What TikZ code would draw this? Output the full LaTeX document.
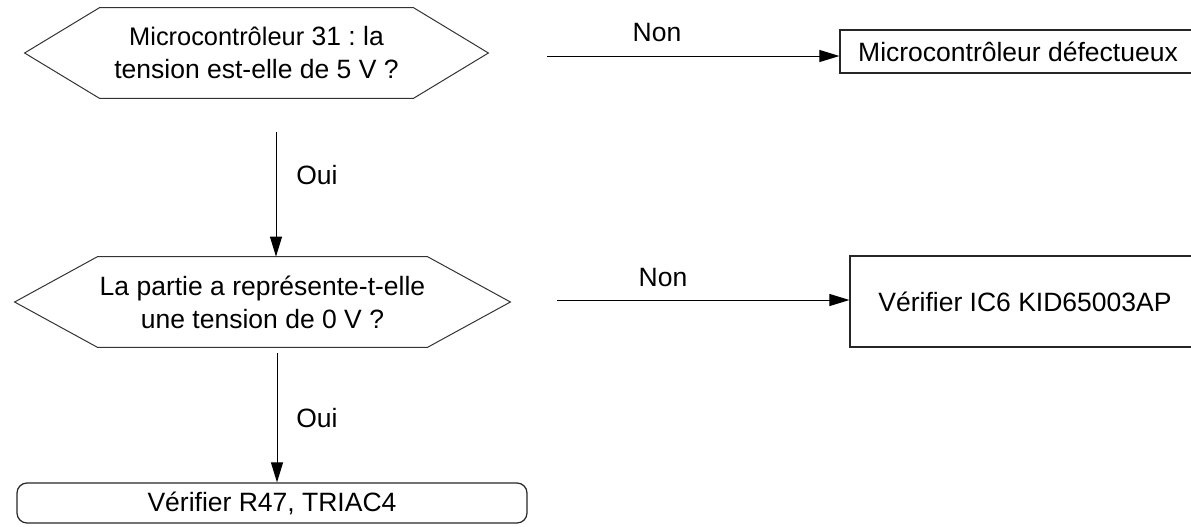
\documentclass[tikz,border=0pt]{standalone}
\usepackage{fontspec}
\setmainfont{Liberation Sans}
\usetikzlibrary{arrows.meta}
\frenchspacing
\begin{document}
\begin{tikzpicture}[x=0.5pt,y=-0.5pt,
  every node/.style={font=\fontsize{13.25}{16.5}\selectfont, inner sep=0pt},
  hexa/.style={draw=none, align=center, minimum height=45pt},
  outline/.style={draw=black!80, line width=0.5pt, line join=miter},
  boxstyle/.style={draw=black!85, line width=0.6pt, align=center},
  arr/.style={draw=black, line width=0.5pt, -{Triangle[length=10pt,width=6pt]}},
  lbl/.style={}
]
\useasboundingbox (0,0) rectangle (1191,526);
\clip (0,0) rectangle (1191,526);

% decision 1
\node[hexa, minimum width=231.5pt] (h1) at (256.5,53) {{\fontsize{12.7}{16.5}\selectfont Microcontrôleur} 31 : la\\tension est-elle de 5 V ?};
\draw[outline] (h1.west) -- ([xshift=37.5pt]h1.north west) -- ([xshift=-37.5pt]h1.north east) -- (h1.east) -- ([xshift=-37.5pt]h1.south east) -- ([xshift=37.5pt]h1.south west) -- cycle;

% decision 2
\node[hexa, minimum width=247.5pt] (h2) at (262.5,302) {La partie a représente-t-elle\\une tension de 0 V ?};
\draw[outline] (h2.west) -- ([xshift=41.5pt]h2.north west) -- ([xshift=-41.5pt]h2.north east) -- (h2.east) -- ([xshift=-41.5pt]h2.south east) -- ([xshift=41.5pt]h2.south west) -- cycle;

% result boxes
\node[boxstyle, minimum width=178pt, minimum height=21.5pt] (b1) at (1018,51.5) {Microcontrôleur défectueux};
\node[boxstyle, minimum width=175pt, minimum height=45.5pt] (b2) at (1025,301.5) {Vérifier IC6 KID65003AP};
\node[boxstyle, rounded corners=5pt, minimum width=255pt, minimum height=20pt] (b3) at (272,503) {Vérifier R47, TRIAC4};

% connector end points
\coordinate (s1) at (547,56);
\coordinate (s2) at (557,300);
\coordinate (v1) at (276,132);
\coordinate (v2) at (277,353);

\draw[arr] (s1) -- (s1 -| b1.west);
\draw[arr] (s2) -- (s2 -| b2.west);
\draw[arr] (v1) -- (v1 |- h2.north);
\draw[arr] (v2) -- (v2 |- b3.north);

% labels
\node[lbl] (n1) at (657,33) {Non};
\node[lbl] (n2) at (663,278) {Non};
\node[lbl] (o1) at (317,175) {Oui};
\node[lbl] (o2) at (317,418) {Oui};
\end{tikzpicture}
\end{document}
